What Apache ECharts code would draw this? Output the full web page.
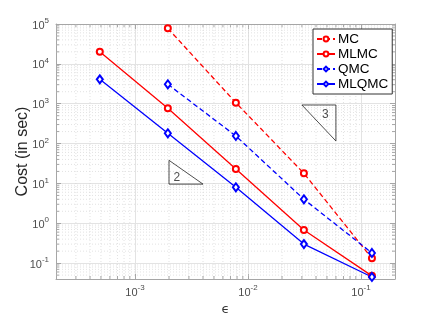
<!DOCTYPE html>
<html>
<head>
<meta charset="utf-8">
<script src="https://cdn.jsdelivr.net/npm/echarts@6/dist/echarts.min.js"></script>
<style>
html,body{margin:0;padding:0;background:#fff;}
#c{width:437px;height:315px;}
</style>
</head>
<body>
<div id="c"></div>
<script>
// ---- data ----
var epsCoarse = [1/2048, 1/512, 1/128, 1/32, 1/8];
var epsMC = [1/512, 1/128, 1/32, 1/8];
var costMC = [78000, 1060, 17.9, 0.132];
var costMLMC = [20200, 766, 23, 0.68, 0.048];
var costQMC = [3070, 155, 4.0, 0.18];
var costMLQMC = [4090, 181, 8.0, 0.30, 0.045];
var seriesNames = ['MC', 'MLMC', 'QMC', 'MLQMC'];
var xRange = [2e-4, 0.2];
var yRange = [0.04, 1e5];
var tri3 = [[0.03, 930], [0.06, 930], [0.06, 116], [0.03, 930]];
var tri3Label = [0.0484, 520];
var tri2 = [[0.002, 38], [0.002, 9.6], [0.004, 9.6], [0.002, 38]];
var tri2Label = [0.00235, 13.6];

function pairs(xs, ys) { return xs.map(function (x, i) { return [x, ys[i]]; }); }

function minors(r) {
  var out = [];
  for (var k = -6; k <= 6; k++) {
    for (var m = 2; m <= 9; m++) {
      var v = m * Math.pow(10, k);
      if (v > r[0] * 1.0001 && v < r[1] * 0.9999) out.push(v);
    }
  }
  return out;
}
var xMinor = minors(xRange).map(function (v) { return [v, 1]; });
var yMinor = minors(yRange).map(function (v) { return [0.01, v]; });

function powLabel(v) {
  var e = Math.round(Math.log10(v));
  if (Math.abs(Math.log10(v) - e) > 1e-6) return '';
  return '{b|10}{s|' + e + '}';
}
var rich = {
  b: { fontSize: 11, color: '#4d4d4d', fontFamily: 'Liberation Sans', lineHeight: 14, verticalAlign: 'bottom' },
  s: { fontSize: 8, color: '#4d4d4d', fontFamily: 'Liberation Sans', lineHeight: 14, verticalAlign: 'top', padding: [0, 0, 6, 0] }
};
var axisGray = '#a6a6a6';
var gridLine = '#e3e3e3';
var minorColor = '#cfcfcf';

function minorRender(isX) {
  return function (params, api) {
    var cs = params.coordSys;
    var lines = [];
    if (isX) {
      var px = api.coord([api.value(0), 1])[0];
      lines.push({ type: 'line', shape: { x1: px, y1: cs.y, x2: px, y2: cs.y + cs.height }, style: { stroke: minorColor, lineWidth: 0.6, lineDash: [1, 2] } });
      lines.push({ type: 'line', shape: { x1: px, y1: cs.y + cs.height, x2: px, y2: cs.y + cs.height - 3 }, style: { stroke: axisGray, lineWidth: 1 } });
      lines.push({ type: 'line', shape: { x1: px, y1: cs.y, x2: px, y2: cs.y + 3 }, style: { stroke: axisGray, lineWidth: 1 } });
    } else {
      var py = api.coord([0.01, api.value(1)])[1];
      lines.push({ type: 'line', shape: { x1: cs.x, y1: py, x2: cs.x + cs.width, y2: py }, style: { stroke: minorColor, lineWidth: 0.6, lineDash: [1, 2] } });
      lines.push({ type: 'line', shape: { x1: cs.x, y1: py, x2: cs.x + 3, y2: py }, style: { stroke: axisGray, lineWidth: 1 } });
      lines.push({ type: 'line', shape: { x1: cs.x + cs.width, y1: py, x2: cs.x + cs.width - 3, y2: py }, style: { stroke: axisGray, lineWidth: 1 } });
    }
    return { type: 'group', children: lines };
  };
}

var chart = echarts.init(document.getElementById('c'), null, { renderer: 'canvas' });
var baseX = {
  type: 'log', logBase: 10, min: xRange[0], max: xRange[1],
  axisLine: { show: true, lineStyle: { color: axisGray, width: 1 } },
  axisTick: { show: true, inside: true, length: 5, lineStyle: { color: axisGray } },
  splitLine: { show: false },
  minorTick: { show: false }, minorSplitLine: { show: false }
};
var baseY = {
  type: 'log', logBase: 10, min: yRange[0], max: yRange[1],
  axisLine: { show: true, lineStyle: { color: axisGray, width: 1 } },
  axisTick: { show: true, inside: true, length: 5, lineStyle: { color: axisGray } },
  splitLine: { show: false },
  minorTick: { show: false }, minorSplitLine: { show: false }
};

var option = {
  backgroundColor: '#fff',
  animation: false,
  textStyle: { fontFamily: 'Liberation Sans' },
  grid: { left: 56, right: 42, top: 24, bottom: 36, containLabel: false, outerBoundsMode: 'none' },
  legend: {
    data: seriesNames,
    orient: 'vertical',
    left: 313, top: 29,
    padding: [3, 4, 3, 3],
    itemGap: 1,
    itemWidth: 18, itemHeight: 6,
    backgroundColor: '#fff',
    borderColor: '#333', borderWidth: 1,
    textStyle: { fontSize: 13.5, color: '#000', fontFamily: 'Liberation Sans', lineHeight: 13, padding: [0, 0, 0, -2] }
  },
  xAxis: [
    Object.assign({}, baseX, {
      position: 'bottom',
      name: 'ϵ', nameLocation: 'middle', nameGap: 24, nameMoveOverlap: false,
      nameTextStyle: { fontSize: 13, color: '#333', fontFamily: 'DejaVu Sans' },
      axisLabel: { show: true, margin: 5, formatter: powLabel, rich: rich },
      splitLine: { show: true, lineStyle: { color: gridLine, width: 1 } }
    }),
    Object.assign({}, baseX, { position: 'top', axisLabel: { show: false } })
  ],
  yAxis: [
    Object.assign({}, baseY, {
      position: 'left',
      name: 'Cost (in sec)', nameLocation: 'middle', nameGap: 25, nameMoveOverlap: false,
      nameTextStyle: { fontSize: 16, color: '#262626', fontFamily: 'Liberation Sans' },
      axisLabel: { show: true, margin: 7, formatter: powLabel, rich: rich },
      splitLine: { show: true, lineStyle: { color: gridLine, width: 1 } }
    }),
    Object.assign({}, baseY, { position: 'right', axisLabel: { show: false } })
  ],
  series: [
    { type: 'custom', name: '_xminor', renderItem: minorRender(true), data: xMinor, xAxisIndex: 0, yAxisIndex: 0, silent: true, z: 1, clip: false },
    { type: 'custom', name: '_yminor', renderItem: minorRender(false), data: yMinor, xAxisIndex: 0, yAxisIndex: 0, silent: true, z: 1, clip: false },
    { name: 'MC', type: 'line', data: pairs(epsMC, costMC), color: '#ff0000', symbol: 'emptyCircle', symbolSize: 6, lineStyle: { width: 1.3, type: [5, 3] }, itemStyle: { borderWidth: 1.3 }, z: 3 },
    { name: 'MLMC', type: 'line', data: pairs(epsCoarse, costMLMC), color: '#ff0000', symbol: 'emptyCircle', symbolSize: 6, lineStyle: { width: 1.3 }, itemStyle: { borderWidth: 1.3 }, z: 3 },
    { name: 'QMC', type: 'line', data: pairs(epsMC, costQMC), color: '#0000ff', symbol: 'emptyDiamond', symbolSize: [6, 8], lineStyle: { width: 1.3, type: [5, 3] }, itemStyle: { borderWidth: 1.3 }, z: 3 },
    { name: 'MLQMC', type: 'line', data: pairs(epsCoarse, costMLQMC), color: '#0000ff', symbol: 'emptyDiamond', symbolSize: [6, 8], lineStyle: { width: 1.3 }, itemStyle: { borderWidth: 1.3 }, z: 3 },
    { name: '_tri3', type: 'line', data: tri3, color: '#222', symbol: 'none', lineStyle: { width: 0.8 }, silent: true, z: 2 },
    { name: '_tri2', type: 'line', data: tri2, color: '#222', symbol: 'none', lineStyle: { width: 0.8 }, silent: true, z: 2 },
    {
      name: '_labels', type: 'scatter', symbolSize: 0, itemStyle: { color: 'rgba(0,0,0,0)' }, silent: true, z: 4,
      data: [ { value: tri3Label, label: { formatter: '3' } }, { value: tri2Label, label: { formatter: '2' } } ],
      label: { show: true, position: 'inside', fontSize: 12, color: '#222', fontFamily: 'Liberation Sans' }
    }
  ]
};
chart.setOption(option);
</script>
</body>
</html>
